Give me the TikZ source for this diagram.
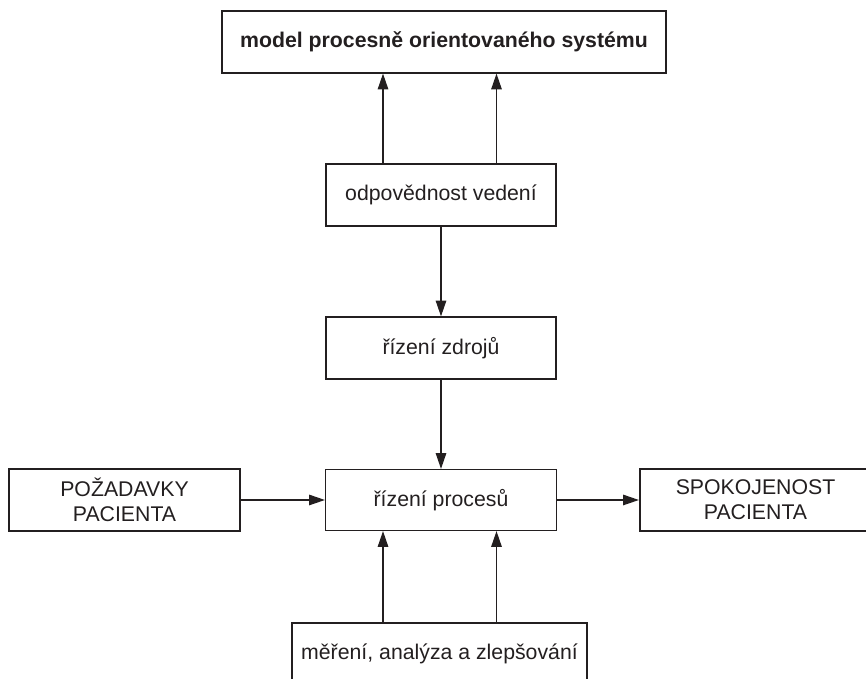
\documentclass[tikz,border=0pt]{standalone}
\usepackage{fontspec}
\setmainfont{Liberation Sans}
\usepackage{xcolor}
\usepackage{tikz}
\usetikzlibrary{calc}
\usetikzlibrary{arrows.meta}
\definecolor{ink}{RGB}{35,31,32}
\tikzset{
  box/.style={draw=ink, text=ink, line width=0.7pt, minimum width=4.6cm, minimum height=1.24cm, align=center, font=\fontsize{12.1}{14.4}\selectfont},
  thickbox/.style={box, line width=1.3pt, minimum width=4.62cm},
  arr/.style={draw=ink, line width=0.65pt, -{Triangle[length=9pt,width=6pt]}}
}
\begin{document}
\begin{tikzpicture}
        %RAMKA
        \useasboundingbox (0,0) rectangle (17.32,13.58);
        \clip (0,0) rectangle (17.32,13.58);
        %KOORDINAT
        \coordinate (L) at (7.66,0);
        \coordinate (R) at (9.93,0);
        %KOTAK
        \node[box, minimum width=8.88cm, font=\fontsize{12.1}{14.4}\selectfont\bfseries] (model) at (8.88,12.74) {model procesně orientovaného systému};
        \node[box] (vedeni) at (8.82,9.68) {odpovědnost vedení};
        \node[box] (zdroje) at (8.82,6.62) {řízení zdrojů};
        \node[box, minimum width=4.62cm, minimum height=1.22cm] (procesy) at (8.82,3.58) {řízení procesů};
        \node[thickbox] (pozadavky) at (2.49,3.58) {POŽADAVKY\\PACIENTA};
        \node[thickbox] (spokojenost) at (15.11,3.58) {SPOKOJENOST\\PACIENTA};
        \node[box, minimum width=5.9cm] (mereni) at (8.79,0.5) {měření, analýza a zlepšování};
        %PANAH
        \draw[arr] (vedeni.north -| L) -- (model.south -| L);
        \draw[arr] (vedeni.north -| R) -- (model.south -| R);
        \draw[arr] (vedeni) -- (zdroje);
        \draw[arr] (zdroje) -- (procesy);
        \draw[arr] (pozadavky) -- (procesy);
        \draw[arr] (procesy) -- (spokojenost);
        \draw[arr] (mereni.north -| L) -- (procesy.south -| L);
        \draw[arr] (mereni.north -| R) -- (procesy.south -| R);
    \end{tikzpicture}
\end{document}
